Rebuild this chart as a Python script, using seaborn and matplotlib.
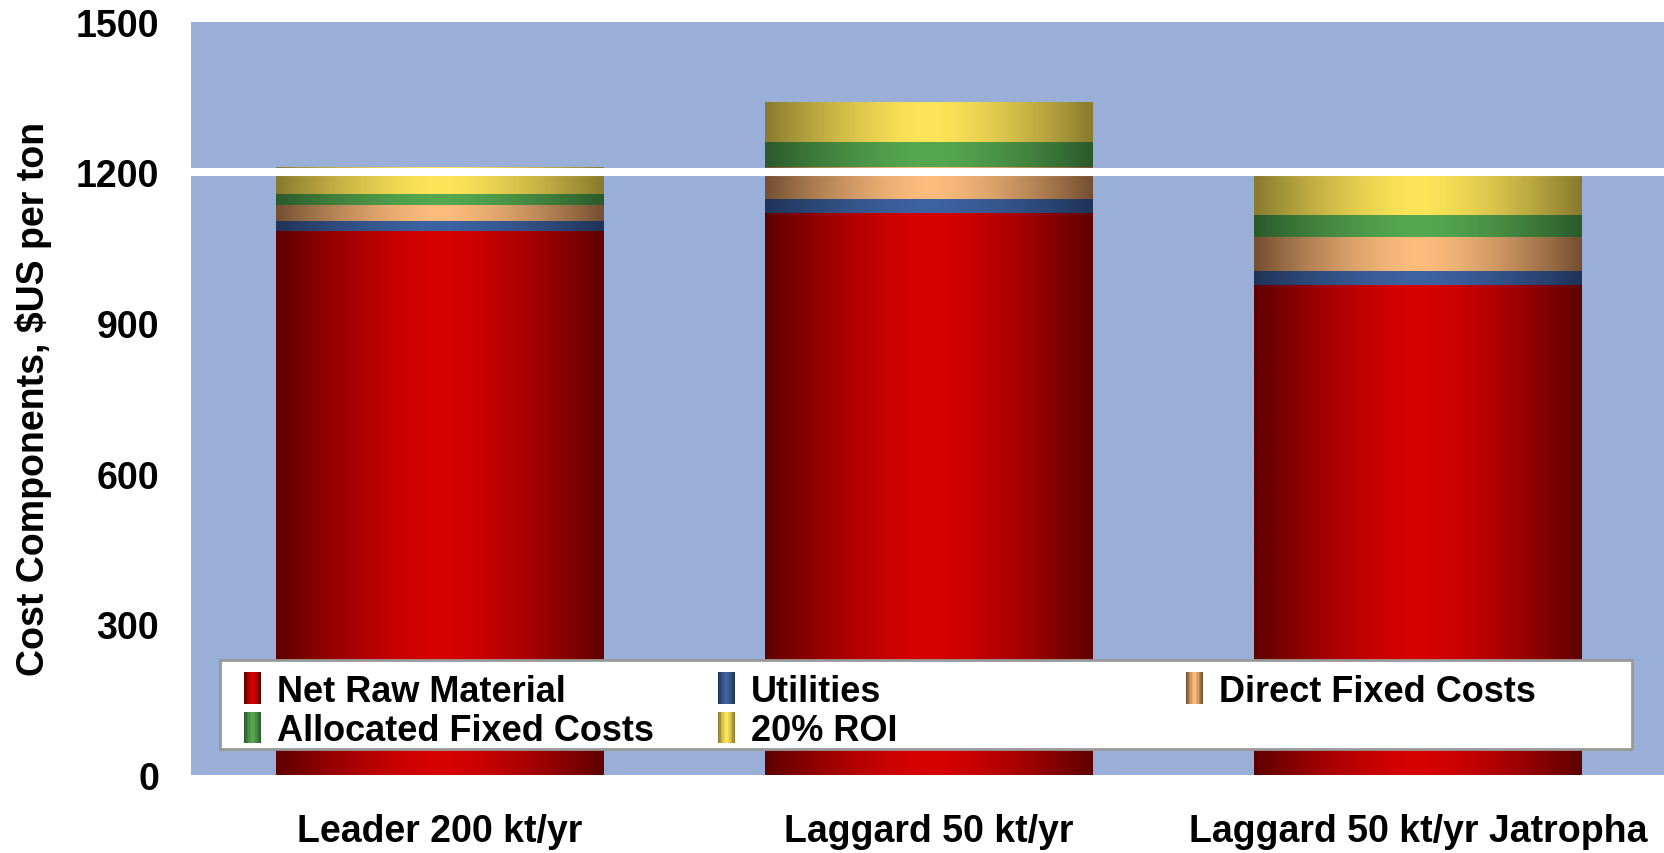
import numpy as np
import pandas as pd
import matplotlib
matplotlib.use("Agg")
import matplotlib.pyplot as plt
import seaborn as sns
from matplotlib.colors import to_rgb
from matplotlib.legend_handler import HandlerBase
from matplotlib.patches import Rectangle, Patch

categories = ["Leader 200 kt/yr", "Laggard 50 kt/yr", "Laggard 50 kt/yr Jatropha"]
components = ["Net Raw Material", "Utilities", "Direct Fixed Costs", "Allocated Fixed Costs", "20% ROI"]
net_raw_material = [1082, 1118, 974]
utilities = [20, 28, 28]
direct_fixed = [32, 64, 68]
allocated_fixed = [23, 48, 44]
roi = [53, 80, 78]
yticks = [0, 300, 600, 900, 1200, 1500]

edge_cols = ["#5E0000", "#1F3358", "#744F31", "#2B5A2B", "#887A2E"]
center_cols = ["#D80000", "#3E63A1", "#FCBC7C", "#56A850", "#FEE558"]
bg = "#9AAFD8"

series = [net_raw_material, utilities, direct_fixed, allocated_fixed, roi]
vals = np.array(series, dtype=float)
cum = np.cumsum(vals, axis=0)

sns.set_theme(style="white")
plt.rcParams['font.family'] = ['Liberation Sans', 'DejaVu Sans']
plt.rcParams['text.color'] = 'black'
plt.rcParams['xtick.color'] = 'black'
plt.rcParams['ytick.color'] = 'black'
plt.rcParams['axes.labelcolor'] = 'black'
fig = plt.figure(figsize=(16.65, 8.54), dpi=100)
ax = fig.add_axes([0.1147, 0.0913, 0.8853, 0.882])
ax.set_facecolor(bg)


def gradient_img(ci, n=256):
    t = np.linspace(0, 1, n)
    d = np.abs(t - 0.5) * 2
    m = 1 - d ** 1.5
    e = np.array(to_rgb(edge_cols[ci]))
    c = np.array(to_rgb(center_cols[ci]))
    row = e[None, :] * (1 - m[:, None]) + c[None, :] * m[:, None]
    return row[None, :, :]

# draw stacked bars via seaborn (tallest cumulative first)
patch_groups = {}
for k in range(len(components) - 1, -1, -1):
    df = pd.DataFrame({"cat": categories, "val": cum[k]})
    before = len(ax.patches)
    sns.barplot(data=df, x="cat", y="val", color=center_cols[k], width=0.67,
                ax=ax, saturation=1, zorder=2)
    patch_groups[k] = ax.patches[before:]

for k, patches in patch_groups.items():
    for i, p in enumerate(patches):
        x0 = p.get_x()
        w = p.get_width()
        bottom = cum[k - 1][i] if k > 0 else 0.0
        top = cum[k][i]
        p.set_facecolor("none")
        p.set_edgecolor("none")
        ax.imshow(gradient_img(k), extent=(x0, x0 + w, bottom, top),
                  aspect="auto", zorder=3, interpolation="bilinear")

ax.axhline(1200, color="white", lw=5.8, zorder=4)

ax.set_xlim(-0.509, 2.505)
ax.set_ylim(0, 1500)
ax.set_yticks(yticks)
ax.set_yticklabels([str(v) for v in yticks], fontsize=27, fontweight="bold")
ax.tick_params(axis="y", length=0, pad=23)
ax.tick_params(axis="x", length=0, pad=27, labelsize=27)
for lab in ax.get_xticklabels():
    lab.set_fontweight("bold")
ax.set_xlabel("")
ax.set_ylabel("Cost Components, $US per ton", fontsize=27, fontweight="bold")
ax.yaxis.set_label_coords(-0.094, 0.5)
for s in ax.spines.values():
    s.set_visible(False)


class GradHandler(HandlerBase):
    def __init__(self, ci):
        super().__init__()
        self.ci = ci

    def create_artists(self, legend, orig_handle, xdescent, ydescent, width, height, fontsize, trans):
        img = gradient_img(self.ci, 12)[0]
        n = len(img)
        arts = []
        for j in range(n):
            r = Rectangle((-xdescent + width * j / n, -ydescent - 3), width / n + 0.3, height + 6,
                          facecolor=img[j], edgecolor="none", transform=trans)
            arts.append(r)
        return arts

# legend frame
frame = Rectangle((0.0197, 0.0345), 0.9579, 0.1182, transform=ax.transAxes,
                  facecolor="white", edgecolor="#999999", lw=2, zorder=5)
ax.add_patch(frame)

handles = [Patch(label=c) for c in components]
hmap = {h: GradHandler(i) for i, h in enumerate(handles)}
order = [0, 3, 1, 4, 2]
leg = ax.legend([handles[i] for i in order], [components[i] for i in order],
                handler_map=hmap, ncol=3, loc="upper left",
                bbox_to_anchor=(0.036, 0.1345),
                prop={"weight": "bold", "size": 26}, frameon=False,
                handlelength=0.47, handleheight=0.6, handletextpad=0.44,
                labelspacing=0.13, borderpad=0, columnspacing=0.0,
                borderaxespad=0)
col_widths = [474, 468, 420]
for col, wpx in zip(leg._legend_handle_box.get_children(), col_widths):
    col.width = wpx
    col.align = "left"
leg.set_zorder(6)

fig.savefig("out.png", dpi=100, facecolor="white")
